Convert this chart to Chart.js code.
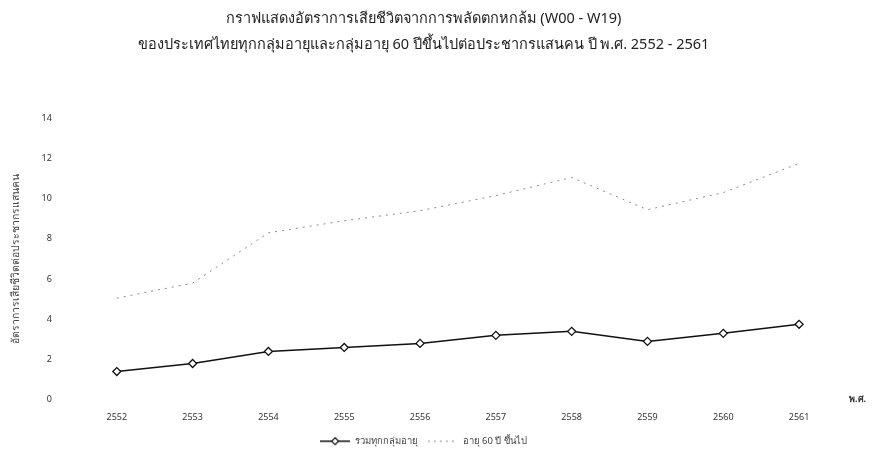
<!DOCTYPE html>
<html>
<head>
<meta charset="utf-8">
<script src="https://cdn.jsdelivr.net/npm/chart.js@4"></script>
<style>
  html, body { margin: 0; padding: 0; background: #fff; }
  #wrap { width: 874px; height: 456px; }
</style>
</head>
<body>
<div id="wrap"><canvas id="deathChart"></canvas></div>
<script>
"use strict";

// Years (B.E.) on the x axis
const years = ["2552", "2553", "2554", "2555", "2556", "2557", "2558", "2559", "2560", "2561"];
// Death rate per 100,000 population, all age groups
const allAges = [1.4, 1.8, 2.4, 2.6, 2.8, 3.2, 3.4, 2.9, 3.3, 3.75];
// Death rate per 100,000 population, aged 60 and over
const age60Plus = [5.05, 5.8, 8.3, 8.9, 9.4, 10.15, 11.05, 9.45, 10.3, 11.75];
// Y tick values shown on the left
const yTicks = [0, 2, 4, 6, 8, 10, 12, 14];

const titleLines = [
  "กราฟแสดงอัตราการเสียชีวิตจากการพลัดตกหกล้ม (W00 - W19)",
  "ของประเทศไทยทุกกลุ่มอายุและกลุ่มอายุ 60 ปีขึ้นไปต่อประชากรแสนคน ปี พ.ศ. 2552 - 2561"
];
const yTitle = "อัตราการเสียชีวิตต่อประชากรแสนคน";
const xUnit = "พ.ศ.";

const FONT = "'Noto Sans', 'DejaVu Sans', sans-serif";

// legend swatches: a short line, with a diamond for the first series
function legendSwatch(color, dash, withMarker) {
  const c = document.createElement("canvas");
  c.width = 30;
  c.height = 10;
  const g = c.getContext("2d");
  g.strokeStyle = color;
  g.lineWidth = withMarker ? 1.5 : 1;
  g.setLineDash(dash);
  g.beginPath();
  g.moveTo(0, 5);
  g.lineTo(30, 5);
  g.stroke();
  if (withMarker) {
    g.setLineDash([]);
    g.fillStyle = "#fff";
    g.lineWidth = 1.2;
    g.beginPath();
    g.moveTo(15, 1.5);
    g.lineTo(18.5, 5);
    g.lineTo(15, 8.5);
    g.lineTo(11.5, 5);
    g.closePath();
    g.fill();
    g.stroke();
  }
  return c;
}

// the "พ.ศ." unit text at the right end of the x axis
const xUnitLabel = {
  id: "xUnitLabel",
  afterDraw(chart) {
    const { ctx, chartArea } = chart;
    ctx.save();
    ctx.font = "bold 9px " + FONT;
    ctx.fillStyle = "#333";
    ctx.textAlign = "left";
    ctx.textBaseline = "middle";
    ctx.fillText(xUnit, chartArea.right + 12, chartArea.bottom);
    ctx.restore();
  }
};

const ctx = document.getElementById("deathChart").getContext("2d");
new Chart(ctx, {
  type: "line",
  data: {
    labels: years,
    datasets: [
      {
        label: "รวมทุกกลุ่มอายุ",
        data: allAges,
        borderColor: "#111",
        borderWidth: 1.5,
        backgroundColor: "#fff",
        pointStyle: "rectRot",
        pointRadius: 4,
        pointBorderColor: "#111",
        pointBorderWidth: 1.3,
        pointBackgroundColor: "#fff",
        tension: 0
      },
      {
        label: "อายุ 60 ปี ขึ้นไป",
        data: age60Plus,
        borderColor: "#8a8a8a",
        borderWidth: 1,
        borderDash: [2, 5],
        pointRadius: 0,
        backgroundColor: "#8a8a8a",
        tension: 0
      }
    ]
  },
  options: {
    responsive: true,
    maintainAspectRatio: false,
    animation: false,
    layout: { padding: { left: 10, right: 37, top: 6, bottom: 0 } },
    plugins: {
      title: {
        display: true,
        text: titleLines,
        color: "#222",
        font: { family: FONT, size: 14.5, weight: "normal", lineHeight: 1.8 },
        padding: { top: 0, bottom: 60 }
      },
      legend: {
        position: "bottom",
        labels: {
          color: "#444",
          font: { family: FONT, size: 9.5 },
          usePointStyle: true,
          pointStyleWidth: 30,
          padding: 10,
          generateLabels(chart) {
            const items = Chart.defaults.plugins.legend.labels.generateLabels(chart);
            items[0].pointStyle = legendSwatch("#111", [], true);
            items[1].pointStyle = legendSwatch("#8a8a8a", [2, 4], false);
            return items;
          }
        }
      },
      tooltip: { enabled: false }
    },
    scales: {
      x: {
        offset: true,
        grid: { display: false },
        border: { display: false },
        ticks: { color: "#333", font: { family: FONT, size: 9 }, padding: 4 }
      },
      y: {
        min: 0,
        max: 14,
        afterBuildTicks(scale) {
          scale.ticks = yTicks.map(v => ({ value: v }));
        },
        grid: { display: false },
        border: { display: false },
        ticks: { color: "#333", font: { family: FONT, size: 9 }, padding: 19 },
        title: {
          display: true,
          text: yTitle,
          color: "#444",
          font: { family: FONT, size: 10.5 },
          padding: 0
        }
      }
    }
  },
  plugins: [xUnitLabel]
});
</script>
</body>
</html>
